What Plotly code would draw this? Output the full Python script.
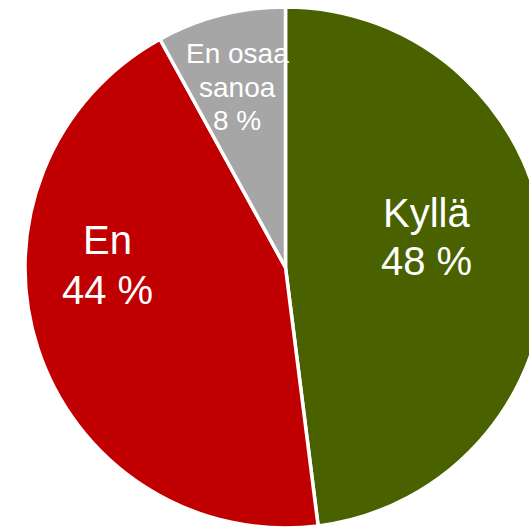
import plotly.graph_objects as go

# Survey answers and their shares (%)
categories = ["Kyllä", "En", "En osaa\nsanoa"]
values = [48, 44, 8]
colors = ["#4A6100", "#C00000", "#A6A6A6"]

# Canvas is larger than the visible window so the pie runs off the right edge
W, H = 600, 560
CX, CY, R = 285.5, 267.5, 260.5  # pie centre and radius in pixels

# Label placement: (centre x, first line middle y, line spacing, font size) in pixels
label_layout = [
    (426, 213, 48, 40),
    (107, 240, 50, 40),
    (237, 54, 33, 28),
]

fig = go.Figure(
    go.Pie(
        labels=[c.replace("\n", " ") for c in categories],
        values=values,
        sort=False,
        direction="clockwise",
        rotation=0,
        textinfo="none",
        hoverinfo="label+percent",
        marker=dict(colors=colors, line=dict(color="white", width=3.5)),
        domain=dict(
            x=[(CX - R) / W, (CX + R) / W],
            y=[1 - (CY + R) / H, 1 - (CY - R) / H],
        ),
        showlegend=False,
    )
)

annotations = []
for cat, val, (lx, ly, step, size) in zip(categories, values, label_layout):
    lines = cat.split("\n") + [f"{val} %"]
    for j, line in enumerate(lines):
        annotations.append(
            dict(
                text=line,
                x=lx / W,
                y=1 - (ly + j * step) / H,
                xref="paper",
                yref="paper",
                xanchor="center",
                yanchor="middle",
                showarrow=False,
                font=dict(family="Liberation Sans, Arial, sans-serif", size=size, color="white"),
            )
        )

fig.update_layout(
    width=W,
    height=H,
    margin=dict(l=0, r=0, t=0, b=0),
    paper_bgcolor="white",
    plot_bgcolor="white",
    annotations=annotations,
)

fig.write_html(
    "out.html",
    config={"displayModeBar": False},
    post_script="document.documentElement.style.overflow='hidden';document.body.style.overflow='hidden';document.body.style.margin='0';",
)
